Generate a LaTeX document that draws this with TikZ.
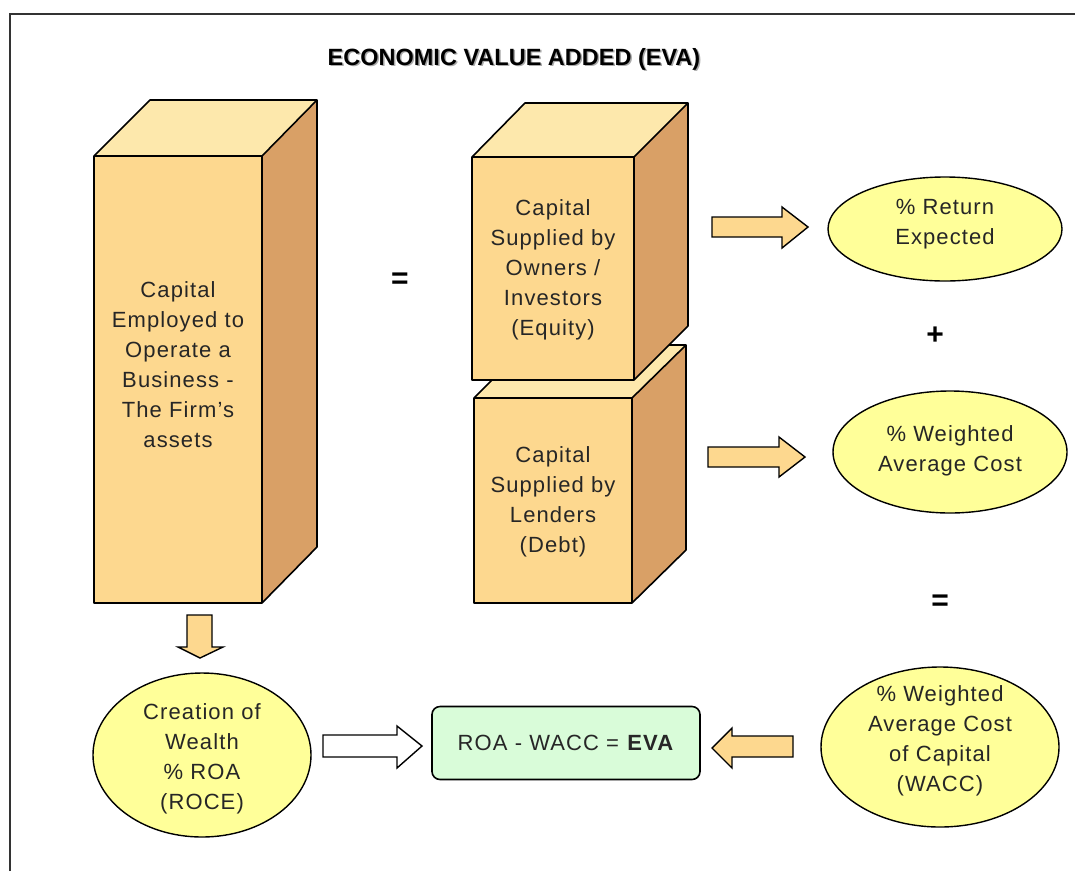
\documentclass[tikz,border=0pt]{standalone}
\usepackage{fontspec}
\setmainfont{Liberation Sans}[LetterSpace=5]
\newfontfamily\titlefont{Liberation Sans}[LetterSpace=0]
\usetikzlibrary{shapes.geometric}
\definecolor{frontc}{RGB}{253,216,143}
\definecolor{topc}{RGB}{253,232,172}
\definecolor{sidec}{RGB}{217,160,102}
\definecolor{ellc}{RGB}{255,255,153}
\definecolor{greenc}{RGB}{217,252,217}
\definecolor{shadowc}{RGB}{170,170,170}
\tikzset{
  x=1pt, y=-1pt,
  txt/.style={font=\fontsize{22}{30}\selectfont, align=center, text=black!85},
  face/.style={draw=black, line width=1.6pt, line join=round},
  oval/.style={ellipse, draw=black, line width=1.4pt, fill=ellc, inner sep=0pt},
  blockarrow/.style={draw=black, line width=1.4pt, line join=miter, fill=frontc},
  opsign/.style={font=\fontsize{30}{30}\selectfont\bfseries},
}
\begin{document}
\begin{tikzpicture}
\useasboundingbox (0,0) rectangle (1075,871);
% frame
\draw[line width=2.5pt, black!80] (10,871) -- (10,14) -- (1075,14);

% title
\node[font=\titlefont\fontsize{23.5}{26}\selectfont\bfseries, text=shadowc] at (515.5,60.5) {ECONOMIC VALUE ADDED (EVA)};
\node[font=\titlefont\fontsize{23.5}{26}\selectfont\bfseries] (title) at (514,59) {ECONOMIC VALUE ADDED (EVA)};

% ---- Left box (capital employed)
\fill[topc] (94,156) -- (150,100) -- (317,100) -- (262,156) -- cycle;
\fill[sidec] (262,156) -- (317,100) -- (317,547) -- (262,603) -- cycle;
\fill[frontc] (94,156) rectangle (262,603);
\draw[face] (94,156) -- (150,100) -- (317,100) -- (317,547) -- (262,603) -- (94,603) -- cycle;
\draw[face] (94,156) -- (262,156) -- (262,603);
\draw[face] (262,156) -- (317,100);
\node[txt] (capemp) at (178,365) {Capital\\Employed to\\Operate a\\Business -\\The Firm's\\assets};

% ---- Debt box (drawn first, behind)
\fill[topc] (474,398) -- (527,345) -- (686,345) -- (632,398) -- cycle;
\fill[sidec] (632,398) -- (686,345) -- (686,550) -- (632,603) -- cycle;
\fill[frontc] (474,398) rectangle (632,603);
\draw[face] (474,398) -- (527,345) -- (686,345) -- (686,550) -- (632,603) -- (474,603) -- cycle;
\draw[face] (474,398) -- (632,398) -- (632,603);
\draw[face] (632,398) -- (686,345);
\node[txt] (debt) at (553,502) {Capital\\Supplied by\\Lenders\\(Debt)};

% ---- Equity box
\fill[topc] (472,157) -- (525,103) -- (688,103) -- (634,157) -- cycle;
\fill[sidec] (634,157) -- (688,103) -- (688,326) -- (634,380) -- cycle;
\fill[frontc] (472,157) rectangle (634,380);
\draw[face] (472,157) -- (525,103) -- (688,103) -- (688,326) -- (634,380) -- (472,380) -- cycle;
\draw[face] (472,157) -- (634,157) -- (634,380);
\draw[face] (634,157) -- (688,103);
\node[txt] (equity) at (553,270) {Capital\\Supplied by\\Owners /\\Investors\\(Equity)};

% ---- operators
\node[opsign] (eq1) at (400,281) {=};
\node[opsign] (plus) at (935,336) {+};
\node[opsign] (eq2) at (940,603) {=};

% ---- ellipses
\node[oval, minimum width=234pt, minimum height=104pt] (ret) at (945,229) {};
\node[txt] at (945,224) {\% Return\\Expected};
\node[oval, minimum width=234pt, minimum height=122pt] (wac) at (950,452) {};
\node[txt] at (950,451) {\% Weighted\\Average Cost};
\node[oval, minimum width=218pt, minimum height=164pt] (wealth) at (202,755) {};
\node[txt] at (202,759) {Creation of\\Wealth\\\% ROA\\(ROCE)};
\node[oval, minimum width=238pt, minimum height=160pt] (wacc) at (940,747) {};
\node[txt] at (940,741) {\% Weighted\\Average Cost\\of Capital\\(WACC)};

% ---- result box
\node[draw=black, line width=1.6pt, fill=greenc, rounded corners=8pt,
      minimum width=268pt, minimum height=73pt, txt] (eva) at (566,743)
      {ROA - WACC = \textbf{EVA}};

% ---- block arrows
\draw[blockarrow] (712,217) -- (782,217) -- (782,207) -- (808,227) -- (782,248) -- (782,237) -- (712,237) -- cycle;
\draw[blockarrow] (708,447) -- (779,447) -- (779,437) -- (805,457) -- (779,477) -- (779,467) -- (708,467) -- cycle;
\draw[blockarrow] (187,615) -- (212,615) -- (212,647) -- (223,647) -- (200,658) -- (178,647) -- (187,647) -- cycle;
\draw[blockarrow, fill=white] (323,735) -- (397,735) -- (397,726) -- (422,746) -- (397,768) -- (397,757) -- (323,757) -- cycle;
\draw[blockarrow] (793,736) -- (732,736) -- (732,728) -- (712,748) -- (732,768) -- (732,757) -- (793,757) -- cycle;
\end{tikzpicture}
\end{document}
